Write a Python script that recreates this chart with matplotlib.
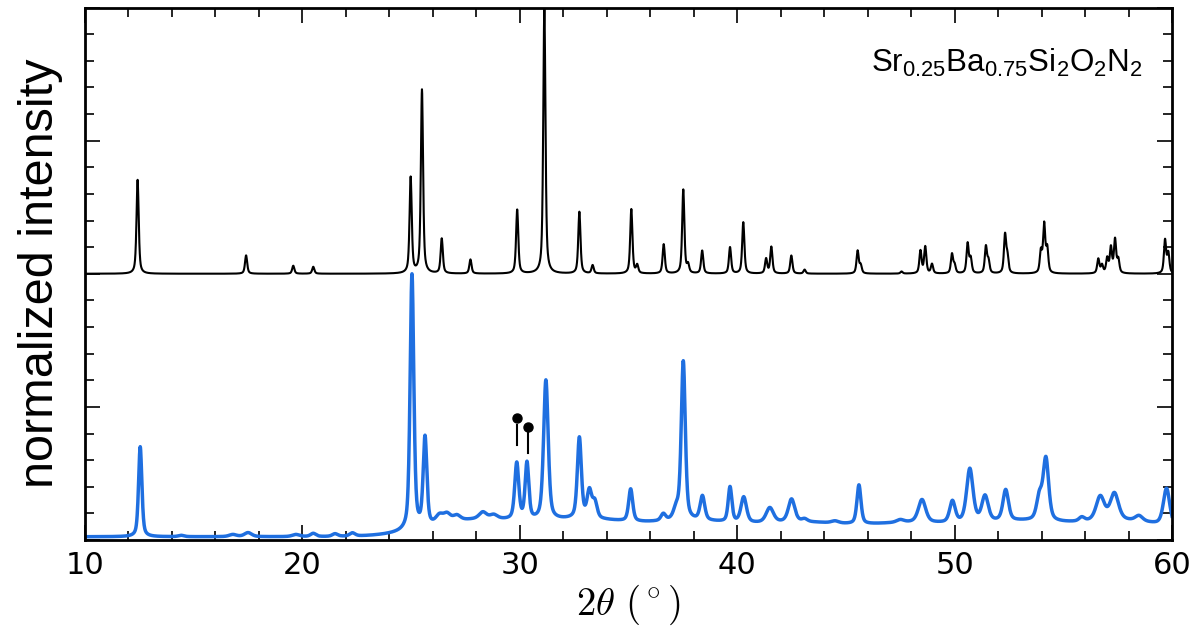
import numpy as np
import matplotlib
matplotlib.use('Agg')
import matplotlib.pyplot as plt
from matplotlib.ticker import MultipleLocator, NullFormatter

plt.rcParams['mathtext.fontset'] = 'cm'
plt.rcParams['mathtext.rm'] = 'Liberation Sans'
plt.rcParams['mathtext.it'] = 'Liberation Sans:italic'

# calculated pattern: peak centre (2theta), height, fwhm
calc_pos = [12.42, 17.41, 19.58, 20.50, 24.98, 25.50, 26.41, 27.73, 29.88, 31.13,
            32.74, 33.35, 35.13, 35.40, 36.62, 37.52, 37.74, 38.39, 39.67, 40.28,
            41.33, 41.57, 42.49, 43.10, 45.54, 45.68, 47.56, 48.43, 48.65, 48.96,
            49.88, 50.00, 50.60, 50.74, 51.44, 51.56, 52.32, 52.43, 53.97, 54.12,
            54.26, 56.61, 56.78, 57.02, 57.19, 57.38, 57.53, 59.68, 59.83]
calc_hgt = [0.353, 0.069, 0.030, 0.026, 0.360, 0.690, 0.131, 0.053, 0.240, 1.000,
            0.232, 0.031, 0.242, 0.030, 0.110, 0.315, 0.030, 0.086, 0.099, 0.193,
            0.055, 0.100, 0.068, 0.015, 0.085, 0.030, 0.008, 0.085, 0.100, 0.035,
            0.072, 0.030, 0.112, 0.055, 0.100, 0.045, 0.143, 0.060, 0.080, 0.180,
            0.090, 0.054, 0.030, 0.055, 0.095, 0.125, 0.050, 0.125, 0.075]
calc_fwhm = 0.12

# measured pattern: peak centre, height, fwhm
meas_pos = [12.54, 14.42, 16.80, 17.50, 19.70, 20.50, 21.50, 22.30, 25.04, 25.64,
            26.30, 26.65, 27.10, 28.30, 28.80, 29.86, 30.33, 31.20, 32.74, 33.20,
            33.45, 35.10, 36.60, 37.20, 37.52, 38.40, 39.67, 40.30, 41.50, 42.50,
            43.10, 44.50, 45.60, 47.50, 48.50, 49.90, 50.70, 51.40, 52.35, 53.90,
            54.20, 55.85, 56.70, 57.35, 58.48, 59.75]
meas_hgt = [0.335, 0.005, 0.008, 0.015, 0.008, 0.012, 0.010, 0.012, 0.950, 0.330,
            0.030, 0.030, 0.020, 0.025, 0.015, 0.210, 0.210, 0.520, 0.300, 0.100,
            0.060, 0.120, 0.025, 0.040, 0.590, 0.090, 0.130, 0.095, 0.055, 0.085,
            0.010, 0.008, 0.145, 0.010, 0.085, 0.080, 0.200, 0.095, 0.115, 0.085,
            0.230, 0.015, 0.090, 0.100, 0.020, 0.140]
meas_fwhm = [0.18, 0.30, 0.40, 0.40, 0.40, 0.30, 0.30, 0.30, 0.20, 0.20,
             0.40, 0.40, 0.40, 0.40, 0.40, 0.22, 0.20, 0.25, 0.22, 0.25,
             0.25, 0.22, 0.25, 0.30, 0.22, 0.25, 0.20, 0.30, 0.40, 0.35,
             0.30, 0.40, 0.22, 0.40, 0.40, 0.30, 0.35, 0.35, 0.30, 0.30,
             0.30, 0.30, 0.45, 0.45, 0.40, 0.35]
# broad background humps under the measured pattern
bg_pos = [28.0, 33.0, 38.0, 43.0, 48.0, 53.0, 58.0]
bg_hgt = [0.060, 0.058, 0.052, 0.048, 0.046, 0.052, 0.055]
bg_base = 0.012

# impurity markers (2theta, height)
mark_pos = [29.86, 30.36]
mark_top = [0.457, 0.426]

tt = np.arange(10.0, 60.001, 0.01)

def pv(x, x0, h, w, eta=0.5):
  g = np.exp(-4*np.log(2)*((x-x0)/w)**2)
  l = 1.0/(1.0 + 4*((x-x0)/w)**2)
  return h*(eta*l + (1-eta)*g)

calc = np.zeros(len(tt))
for p, h in zip(calc_pos, calc_hgt):
  calc += pv(tt, p, h, calc_fwhm, 0.6)
calc = calc/calc.max()

meas = np.zeros(len(tt)) + bg_base
for p, h in zip(bg_pos, bg_hgt):
  meas += pv(tt, p, h, 5.0, 0.0)
for p, h, w in zip(meas_pos, meas_hgt, meas_fwhm):
  meas += pv(tt, p, h, w, 0.5)
meas = meas/meas.max()

fig = plt.figure(figsize=(12, 6.42), dpi=100)
ax = fig.add_axes([85/1200., 102/642., 1087/1200., 532.5/642.])

ax.plot(tt, calc + 1.0, color='k', lw=1.5)
ax.plot(tt, meas, color='#1f6fe0', lw=2.5)

for p, t in zip(mark_pos, mark_top):
  ax.plot(p, t, 'o', color='k', markersize=6.5)
  ax.plot((p, p), (t - 0.025, t - 0.10), color='k', lw=1.5)

ax.set_xlim(10, 60)
ax.set_ylim(0, 2)

ax.xaxis.set_major_locator(MultipleLocator(10))
ax.xaxis.set_minor_locator(MultipleLocator(2))
ax.yaxis.set_major_locator(MultipleLocator(0.5))
ax.yaxis.set_minor_locator(MultipleLocator(0.1))
ax.yaxis.set_major_formatter(NullFormatter())

ax.tick_params(which='both', direction='in', top=True, right=True)
ax.tick_params(which='major', length=11, width=1.2, labelsize=22, pad=8)
ax.tick_params(which='minor', length=6.5, width=1.2)
for s in ax.spines.values():
  s.set_linewidth(2)

ax.set_xlabel(r'$2\theta\ (^\circ)$', fontsize=28, labelpad=2)
ax.set_ylabel('normalized intensity', fontsize=35, family='Liberation Sans', labelpad=8)

t = ax.text(0.973, 0.879, r'$\mathrm{Sr_{0.25}Ba_{0.75}Si_2O_2N_2}$', transform=ax.transAxes,
  ha='right', va='baseline', fontsize=22.5)
t.set_math_fontfamily('custom')

fig.savefig('out.png', dpi=100)
